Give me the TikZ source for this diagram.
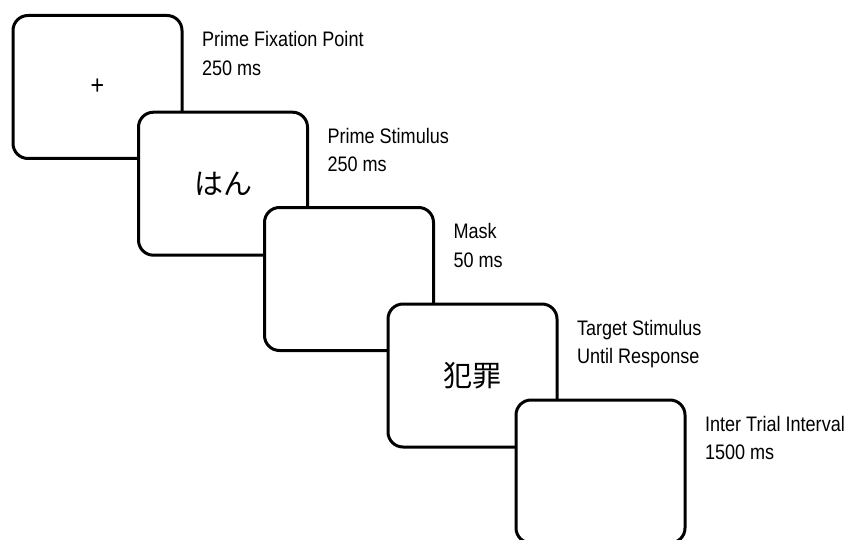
\documentclass[tikz,border=0pt]{standalone}
\usepackage{fontspec}
\setmainfont{Liberation Sans}[FakeStretch=0.86]
\newfontfamily\jpfont{Noto Sans CJK JP}
\usetikzlibrary{positioning}

\begin{document}
\begin{tikzpicture}[
  x=1pt, y=1pt,
  node distance=16pt and 20pt,
  every node/.style={inner sep=0pt, outer sep=0pt},
  screen/.style={draw, line width=3pt, rounded corners=15pt, fill=white, minimum width=169pt, minimum height=143pt, font=\fontsize{27}{30}\selectfont},
  kana/.style={font=\jpfont\fontsize{29}{34}\selectfont},
  info/.style={align=left, font=\fontsize{21}{28.5}\selectfont}
]
\useasboundingbox (0,0) rectangle (856,-540);
\clip (0,0) rectangle (856,-540);
\node[screen] (fix) at (97.5,-87) {+};
\node[screen, kana] (prime) at (223,-183.7) {はん};
\node[screen] (mask) at (349,-279) {};
\node[screen, kana] (target) at (472.5,-375.5) {犯罪};
\node[screen] (iti) at (600.5,-471.5) {};
\node[info, below right=of fix.north east] (fixlbl) {Prime Fixation Point\\250 ms};
\node[info, below right=of prime.north east] (primelbl) {Prime Stimulus\\250 ms};
\node[info, below right=of mask.north east] (masklbl) {Mask\\50 ms};
\node[info, below right=of target.north east] (targetlbl) {Target Stimulus\\Until Response};
\node[info, below right=of iti.north east] (itilbl) {Inter Trial Interval\\1500 ms};
\end{tikzpicture}
\end{document}
